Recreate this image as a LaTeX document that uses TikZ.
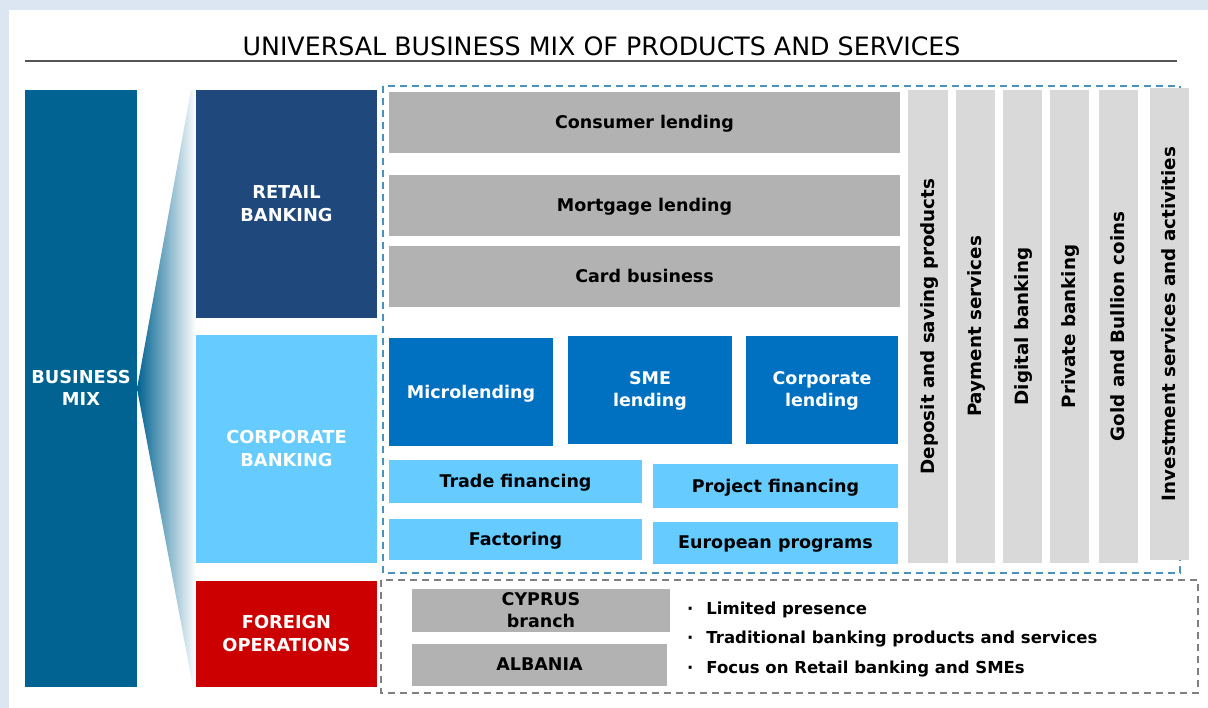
\documentclass[tikz,border=0pt]{standalone}
\usepackage{fontspec}
\setmainfont{DejaVu Sans}
\usetikzlibrary{shadings}
\definecolor{bgframe}{RGB}{220,230,242}
\definecolor{bmix}{RGB}{0,99,145}
\definecolor{retail}{RGB}{31,73,125}
\definecolor{corpb}{RGB}{102,204,255}
\definecolor{foreign}{RGB}{204,0,0}
\definecolor{darkgrey}{RGB}{178,178,178}
\definecolor{lightgrey}{RGB}{217,217,217}
\definecolor{midblue}{RGB}{0,112,192}
\definecolor{dashblue}{RGB}{74,146,188}
\definecolor{dashgrey}{RGB}{128,128,128}
\definecolor{rulegrey}{RGB}{85,85,85}
\newcommand\lblfont{\fontsize{17.5}{22}\selectfont\bfseries}
\newcommand\segfont{\fontsize{17.8}{22.5}\selectfont\bfseries}
\newcommand\bulfont{\fontsize{16.5}{22}\selectfont\bfseries}
\newcommand\colfont{\fontsize{18.3}{22}\selectfont\bfseries}
\newcommand\ttlfont{\fontsize{25.3}{28}\selectfont}
\begin{document}
\begin{tikzpicture}[x=1pt,y=-1pt,
  box/.style={draw=none, inner sep=0pt, outer sep=0pt, anchor=north west, align=center, font=\lblfont, text=black, text depth=1pt},
  wbox/.style={box, text=white},
  segbox/.style={box, text=white, font=\segfont},
  colbox/.style={draw=none, inner sep=0pt, outer sep=0pt, anchor=center, rotate=90, fill=lightgrey, font=\colfont, text=black, minimum height=39pt, text depth=1pt},
  bul/.style={anchor=west, inner sep=0pt, font=\bulfont, text=black, text depth=1pt},
  bluedash/.style={draw=dashblue, line width=2.2pt, dash pattern=on 7pt off 5pt},
  greydash/.style={draw=dashgrey, line width=1.6pt, dash pattern=on 7pt off 5pt}]
% background
\fill[bgframe] (0,0) rectangle (1208,708);
\fill[white] (9,10) rectangle (1208,708);
\useasboundingbox (0,0) rectangle (1208,708);
% title
\node[font=\ttlfont, inner sep=0pt] (title) at (601.5,46) {UNIVERSAL BUSINESS MIX OF PRODUCTS AND SERVICES};
\coordinate (ruleL) at (25,61);
\coordinate (ruleR) at (1177,61);
\draw[rulegrey, line width=2pt] (ruleL) -- (ruleR);
% business mix
\node[segbox, fill=bmix, minimum width=112pt, minimum height=597pt] (busmix) at (25,90) {BUSINESS\\MIX};
% funnel
\shade[left color=bmix, right color=white] (busmix.east) -- (191,90) -- (196,90) -- (196,687) -- (193,687) -- cycle;
% segments
\node[segbox, fill=retail, minimum width=181pt, minimum height=228pt] (retail) at (196,90) {RETAIL\\BANKING};
\node[segbox, fill=corpb, minimum width=181pt, minimum height=228pt] (corp) at (196,335) {CORPORATE\\BANKING};
\node[segbox, fill=foreign, minimum width=181pt, minimum height=106pt] (foreign) at (196,581) {FOREIGN\\OPERATIONS};
% frames
\draw[bluedash] (383,86) rectangle (1180,573);
\draw[greydash] (381,580) rectangle (1198,693);
% retail products
\node[box, fill=darkgrey, minimum width=511pt, minimum height=61pt] (consumer) at (389,92) {Consumer lending};
\node[box, fill=darkgrey, minimum width=511pt, minimum height=61pt] (mortgage) at (389,175) {Mortgage lending};
\node[box, fill=darkgrey, minimum width=511pt, minimum height=61pt] (card) at (389,246) {Card business};
% corporate products
\node[wbox, fill=midblue, minimum width=164pt, minimum height=108pt] (micro) at (389,338) {Microlending};
\node[wbox, fill=midblue, minimum width=164pt, minimum height=108pt] (sme) at (568,336) {SME\\lending};
\node[wbox, fill=midblue, minimum width=152pt, minimum height=108pt] (corplend) at (746,336) {Corporate\\lending};
\node[box, fill=corpb, minimum width=253pt, minimum height=43pt] (trade) at (389,460) {Trade financing};
\node[box, fill=corpb, minimum width=245pt, minimum height=44pt] (project) at (653,464) {Project financing};
\node[box, fill=corpb, minimum width=253pt, minimum height=41pt] (factoring) at (389,519) {Factoring};
\node[box, fill=corpb, minimum width=245pt, minimum height=42pt] (european) at (653,522) {European programs};
% vertical columns
\node[colbox, minimum width=473pt, minimum height=40pt] (deposit) at (928,326.5) {Deposit and saving products};
\node[colbox, minimum width=473pt] (payment) at (975.5,326.5) {Payment services};
\node[colbox, minimum width=473pt] (digital) at (1022.5,326.5) {Digital banking};
\node[colbox, minimum width=473pt] (private) at (1069.5,326.5) {Private banking};
\node[colbox, minimum width=473pt] (gold) at (1118.5,326.5) {Gold and Bullion coins};
\node[colbox, minimum width=472pt] (invest) at (1169.5,324) {Investment services and activities};
% foreign operations
\node[box, fill=darkgrey, minimum width=258pt, minimum height=43pt] (cyprus) at (412,589) {CYPRUS\\branch};
\node[box, fill=darkgrey, minimum width=255pt, minimum height=42pt] (albania) at (412,644) {ALBANIA};
\node[bul] (b1) at (687,609) {·\hspace{13pt}Limited presence};
\node[bul] (b2) at (687,638) {·\hspace{13pt}Traditional banking products and services};
\node[bul] (b3) at (687,668) {·\hspace{13pt}Focus on Retail banking and SMEs};
\end{tikzpicture}
\end{document}
